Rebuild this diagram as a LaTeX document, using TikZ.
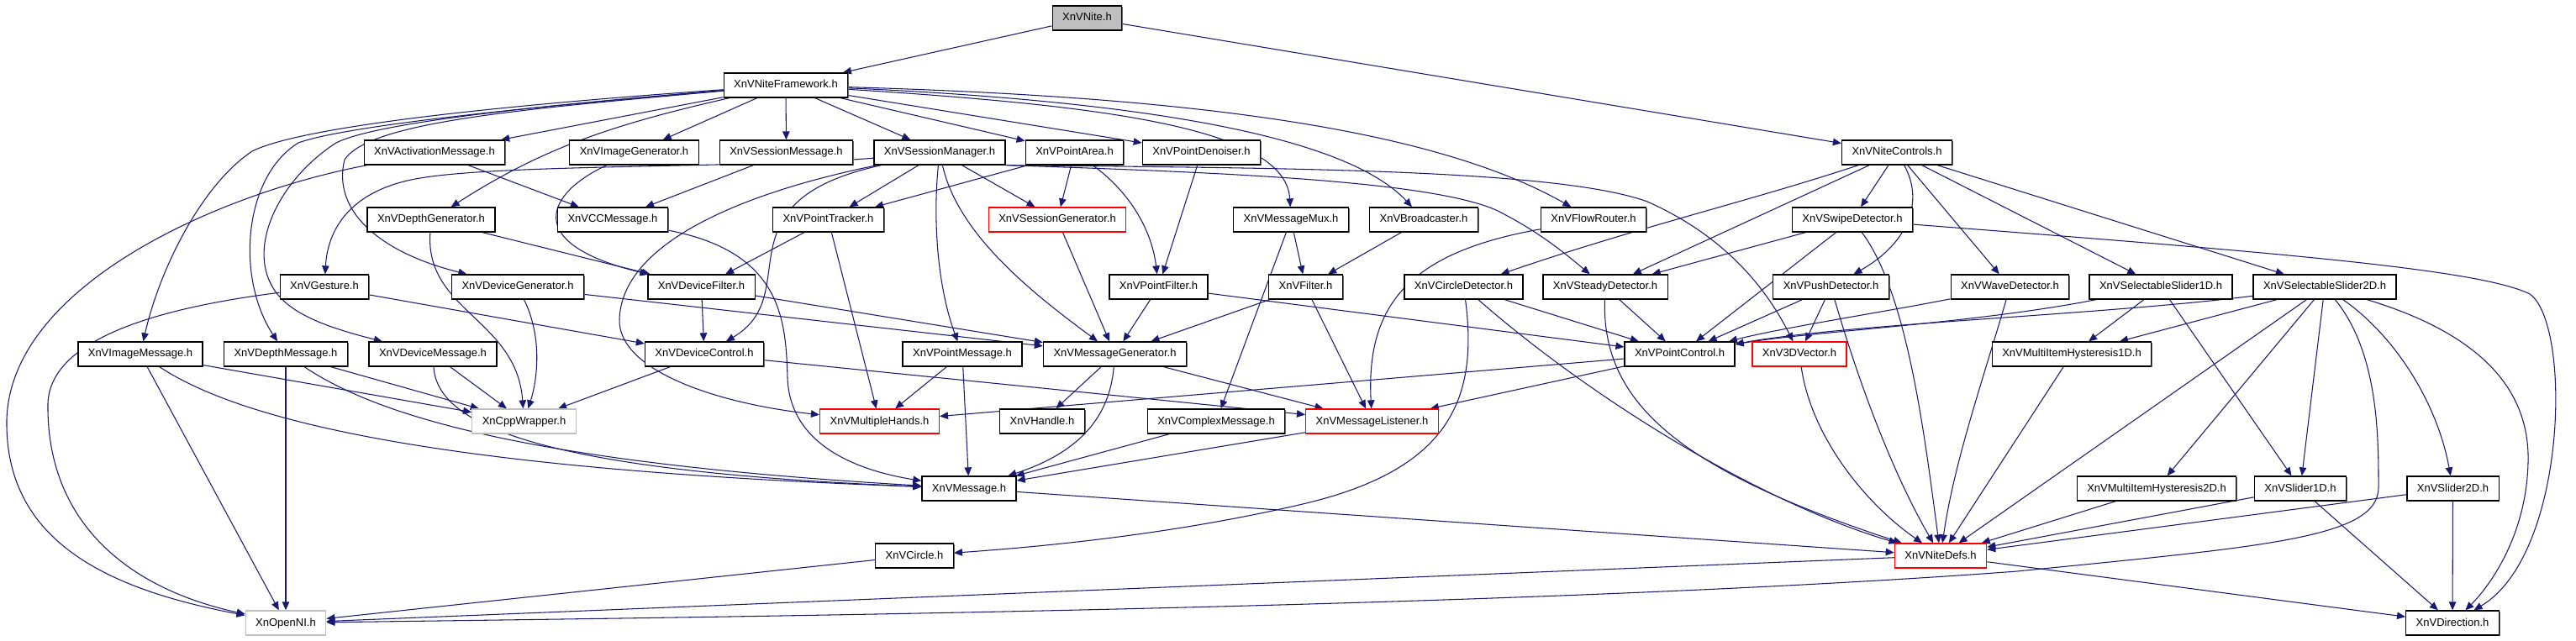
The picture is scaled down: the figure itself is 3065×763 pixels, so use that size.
\documentclass[tikz,border=0pt]{standalone}
\usepackage{fontspec}
\setmainfont{Liberation Sans}
\usetikzlibrary{arrows.meta,shadows}
\definecolor{edgec}{HTML}{191970}
\definecolor{grayb}{HTML}{BFBFBF}
\pgfdeclarelayer{bg}
\pgfdeclarelayer{paper}
\pgfsetlayers{paper,bg,main}
\begin{document}
\begin{tikzpicture}[x=0.02cm,y=-0.02cm,
  nb/.style={rectangle, draw=black, line width=0.75pt, fill=white, minimum height=0.58cm,
    inner xsep=0.24cm, inner ysep=0pt, text height=0.19cm, text depth=0.05cm,
    font=\fontsize{7.4pt}{8pt}\selectfont},
  box/.style={nb, drop shadow={shadow xshift=0.025cm, shadow yshift=-0.025cm, fill=black!60, opacity=1}},
  redbox/.style={nb, draw=red},
  graybox/.style={nb, draw=grayb},
  topbox/.style={box, fill=grayb},
  e/.style={draw=edgec, line width=0.6pt, -{Triangle[length=0.2cm,width=0.17cm]}}]
\useasboundingbox (0,0) rectangle (3065,763);
\begin{pgfonlayer}{paper}
\fill[white] (0,0) rectangle (3065,763);
\end{pgfonlayer}
% row 0-1
\node[topbox] (nite) at (1293.5,21.5) {XnVNite.h};
\node[box] (fw) at (935,101.5) {XnVNiteFramework.h};
% row 2
\node[box] (actmsg) at (517,181.5) {XnVActivationMessage.h};
\node[box] (imggen) at (754.5,181.5) {XnVImageGenerator.h};
\node[box] (sessmsg) at (935.5,181.5) {XnVSessionMessage.h};
\node[box] (sessmgr) at (1118,181.5) {XnVSessionManager.h};
\node[box] (ptarea) at (1278.5,181.5) {XnVPointArea.h};
\node[box] (ptden) at (1429.5,181.5) {XnVPointDenoiser.h};
\node[box] (ctrls) at (2257,181.5) {XnVNiteControls.h};
% row 3
\node[box] (depthgen) at (513,261.5) {XnVDepthGenerator.h};
\node[box] (ccmsg) at (729,261.5) {XnVCCMessage.h};
\node[box] (pttrack) at (985.5,261.5) {XnVPointTracker.h};
\node[redbox] (sessgen) at (1258,261.5) {XnVSessionGenerator.h};
\node[box] (mux) at (1536,261.5) {XnVMessageMux.h};
\node[box] (bcast) at (1694,261.5) {XnVBroadcaster.h};
\node[box] (flow) at (1896,261.5) {XnVFlowRouter.h};
\node[box] (swipe) at (2204,261.5) {XnVSwipeDetector.h};
% row 4
\node[box] (gesture) at (386,341.5) {XnVGesture.h};
\node[box] (devgen) at (616,341.5) {XnVDeviceGenerator.h};
\node[box] (devfilt) at (834.5,341.5) {XnVDeviceFilter.h};
\node[box] (ptfilt) at (1378.5,341.5) {XnVPointFilter.h};
\node[box] (filter) at (1553.5,341.5) {XnVFilter.h};
\node[box] (circdet) at (1741.5,341.5) {XnVCircleDetector.h};
\node[box] (steady) at (1910,341.5) {XnVSteadyDetector.h};
\node[box] (push) at (2178.5,341.5) {XnVPushDetector.h};
\node[box] (wave) at (2391.5,341.5) {XnVWaveDetector.h};
\node[box] (sel1) at (2571,341.5) {XnVSelectableSlider1D.h};
\node[box] (sel2) at (2766,341.5) {XnVSelectableSlider2D.h};
% row 5
\node[box] (imgmsg) at (167,421.5) {XnVImageMessage.h};
\node[box] (depthmsg) at (340,421.5) {XnVDepthMessage.h};
\node[box] (devmsg) at (515,421.5) {XnVDeviceMessage.h};
\node[box] (devctl) at (838,421.5) {XnVDeviceControl.h};
\node[box] (ptmsg) at (1145,421.5) {XnVPointMessage.h};
\node[box] (msggen) at (1326.5,421.5) {XnVMessageGenerator.h};
\node[box] (ptctl) at (1998.5,421.5) {XnVPointControl.h};
\node[redbox] (vec3) at (2141,421.5) {XnV3DVector.h};
\node[box] (hyst1) at (2465,421.5) {XnVMultiItemHysteresis1D.h};
% row 6
\node[graybox] (cpp) at (623.5,501.5) {XnCppWrapper.h};
\node[redbox] (hands) at (1046.5,501.5) {XnVMultipleHands.h};
\node[box] (handle) at (1240,501.5) {XnVHandle.h};
\node[box] (cplx) at (1447,501.5) {XnVComplexMessage.h};
\node[redbox] (listen) at (1632.5,501.5) {XnVMessageListener.h};
% row 7
\node[box] (msg) at (1153,581.5) {XnVMessage.h};
\node[box] (hyst2) at (2566,581.5) {XnVMultiItemHysteresis2D.h};
\node[box] (sl1) at (2737,581.5) {XnVSlider1D.h};
\node[box] (sl2) at (2918.5,581.5) {XnVSlider2D.h};
% row 8-9
\node[box] (circle) at (1088,661.5) {XnVCircle.h};
\node[redbox] (defs) at (2309,661.5) {XnVNiteDefs.h};
\node[graybox] (openni) at (340,741.5) {XnOpenNI.h};
\node[box] (dir) at (2918,741.5) {XnVDirection.h};

\begin{pgfonlayer}{bg}
\draw[e] (nite) -- (fw);
\draw[e] (nite) -- (ctrls);
% framework
\draw[e] (fw) .. controls (600,125) and (360,150) .. (300,180) .. controls (240,220) and (190,320) .. (imgmsg);
\draw[e] (fw) .. controls (620,128) and (410,150) .. (355,170) .. controls (290,210) and (280,330) .. (depthmsg);
\draw[e] (fw) .. controls (650,125) and (450,145) .. (400,170) .. controls (330,215) and (290,300) .. (330,350) .. controls (350,375) and (390,390) .. (devmsg);
\draw[e] (fw) .. controls (620,130) and (440,145) .. (410,190) .. controls (395,250) and (450,300) .. (devgen);
\draw[e] (fw) -- (actmsg);
\draw[e] (fw) .. controls (720,150) and (640,180) .. (depthgen);
\draw[e] (fw) -- (imggen);
\draw[e] (fw) -- (sessmsg);
\draw[e] (fw) -- (sessmgr);
\draw[e] (fw) -- (ptarea);
\draw[e] (fw) -- (ptden);
\draw[e] (fw) .. controls (1300,125) and (1530,150) .. (mux);
\draw[e] (fw) .. controls (1350,120) and (1600,160) .. (bcast);
\draw[e] (fw) .. controls (1400,115) and (1700,150) .. (flow);
% row 2
\draw[e] (actmsg) -- (ccmsg);
\draw[e] (actmsg) .. controls (260,230) and (12,340) .. (8,500) .. controls (6,640) and (120,700) .. (openni);
\draw[e] (imggen) .. controls (650,230) and (620,290) .. (devfilt);
\draw[e] (sessmsg) -- (ccmsg);
\draw[e] (sessmgr) .. controls (900,200) and (600,195) .. (500,212) .. controls (420,225) and (390,270) .. (gesture);
\draw[e] (sessmgr) .. controls (880,230) and (740,290) .. (737,380) .. controls (735,440) and (850,480) .. (hands);
\draw[e] (sessmgr) .. controls (850,240) and (960,350) .. (devctl);
\draw[e] (sessmgr) -- (pttrack);
\draw[e] (sessmgr) -- (sessgen);
\draw[e] (sessmgr) .. controls (1110,260) and (1115,340) .. (ptmsg);
\draw[e] (sessmgr) .. controls (1140,280) and (1230,350) .. (msggen);
\draw[e] (sessmgr.south east) .. controls (1450,205) and (1700,215) .. (1780,250) .. controls (1830,275) and (1860,300) .. (steady);
\draw[e] (sessmgr.south east) .. controls (1500,200) and (1850,200) .. (1960,240) .. controls (2050,280) and (2100,340) .. (vec3);
\draw[e] (ptarea) -- (pttrack);
\draw[e] (ptarea) -- (sessgen);
\draw[e] (ptarea) .. controls (1340,225) and (1370,270) .. (ptfilt);
\draw[e] (ptden) -- (ptfilt);
\draw[e] (ctrls) .. controls (2080,240) and (1950,270) .. (circdet);
\draw[e] (ctrls) -- (steady);
\draw[e] (ctrls) -- (swipe);
\draw[e] (ctrls) .. controls (2290,240) and (2270,290) .. (push);
\draw[e] (ctrls) -- (wave);
\draw[e] (ctrls) -- (sel1);
\draw[e] (ctrls) -- (sel2);
% row 3
\draw[e] (depthgen) -- (devfilt);
\draw[e] (depthgen) .. controls (505,370) and (615,380) .. (cpp);
\draw[e] (ccmsg) .. controls (930,300) and (935,380) .. (937,450) .. controls (940,530) and (1020,560) .. (msg);
\draw[e] (pttrack) -- (devfilt);
\draw[e] (pttrack) -- (hands);
\draw[e] (sessgen) -- (msggen);
\draw[e] (mux) -- (filter);
\draw[e] (mux) -- (cplx);
\draw[e] (bcast) -- (filter);
\draw[e] (flow) .. controls (1680,300) and (1625,360) .. (listen);
\draw[e] (swipe) -- (steady);
\draw[e] (swipe) -- (ptctl);
\draw[e] (swipe) .. controls (2270,350) and (2290,520) .. (defs);
\draw[e] (swipe) .. controls (2700,300) and (2950,320) .. (3010,350) .. controls (3060,385) and (3055,660) .. (dir);
% row 4
\draw[e] (gesture) .. controls (200,365) and (60,400) .. (57,480) .. controls (55,620) and (150,700) .. (openni);
\draw[e] (gesture) -- (devctl);
\draw[e] (devgen) .. controls (645,400) and (640,450) .. (cpp);
\draw[e] (devgen) -- (msggen);
\draw[e] (devfilt) -- (devctl);
\draw[e] (devfilt) -- (msggen);
\draw[e] (ptfilt) -- (msggen);
\draw[e] (ptfilt) -- (ptctl);
\draw[e] (filter) -- (msggen);
\draw[e] (filter) -- (listen);
\draw[e] (circdet) -- (ptctl);
\draw[e] (circdet) .. controls (1900,480) and (2100,600) .. (defs);
\draw[e] (circdet) .. controls (1760,480) and (1720,560) .. (1550,600) .. controls (1400,635) and (1250,650) .. (circle);
\draw[e] (steady) -- (ptctl);
\draw[e] (steady) .. controls (1905,480) and (2000,560) .. (defs);
\draw[e] (push) -- (ptctl);
\draw[e] (push) -- (vec3);
\draw[e] (push) .. controls (2210,450) and (2250,560) .. (defs);
\draw[e] (wave) .. controls (2250,370) and (2120,390) .. (ptctl);
\draw[e] (wave) .. controls (2360,450) and (2325,550) .. (defs);
\draw[e] (sel1) .. controls (2350,385) and (2150,395) .. (ptctl);
\draw[e] (sel1) -- (hyst1);
\draw[e] (sel1) -- (sl1);
\draw[e] (sel2) .. controls (2500,375) and (2200,385) .. (ptctl);
\draw[e] (sel2) -- (hyst1);
\draw[e] (sel2) -- (defs);
\draw[e] (sel2) -- (hyst2);
\draw[e] (sel2) -- (sl1);
\draw[e] (sel2) .. controls (2830,420) and (2830,520) .. (2830,580) .. controls (2830,640) and (2700,650) .. (2400,680) .. controls (1800,725) and (800,735) .. (openni);
\draw[e] (sel2) .. controls (2850,400) and (2900,480) .. (sl2);
\draw[e] (sel2) .. controls (2960,400) and (3010,470) .. (3008,550) .. controls (3006,640) and (2960,700) .. (dir);
% row 5
\draw[e] (imgmsg) -- (cpp);
\draw[e] (imgmsg) .. controls (330,530) and (700,565) .. (msg);
\draw[e] (imgmsg) -- (openni);
\draw[e] (depthmsg) -- (cpp);
\draw[e] (depthmsg) .. controls (470,510) and (700,555) .. (msg);
\draw[e] (depthmsg) -- (openni);
\draw[e] (devmsg) -- (cpp);
\draw[e] (devmsg) .. controls (520,500) and (620,560) .. (msg);
\draw[e] (devctl) -- (cpp);
\draw[e] (devctl) -- (listen);
\draw[e] (ptmsg) -- (hands);
\draw[e] (ptmsg) -- (msg);
\draw[e] (msggen) -- (handle);
\draw[e] (msggen) .. controls (1320,500) and (1280,540) .. (msg);
\draw[e] (msggen) -- (listen);
\draw[e] (ptctl) -- (hands);
\draw[e] (ptctl) -- (listen);
\draw[e] (vec3) .. controls (2155,520) and (2220,600) .. (defs);
\draw[e] (hyst1) -- (defs);
% row 6-8
\draw[e] (cplx) -- (msg);
\draw[e] (listen) -- (msg);
\draw[e] (msg) -- (defs);
\draw[e] (hyst2) -- (defs);
\draw[e] (sl1) -- (defs);
\draw[e] (sl1) -- (dir);
\draw[e] (sl2) -- (defs);
\draw[e] (sl2) -- (dir);
\draw[e] (circle) -- (openni);
\draw[e] (defs) -- (openni);
\draw[e] (defs) -- (dir);
\end{pgfonlayer}
\end{tikzpicture}
\end{document}
